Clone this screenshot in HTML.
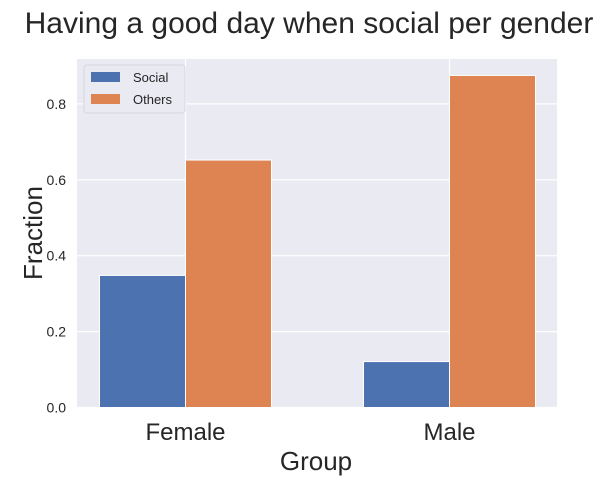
<!DOCTYPE html>
<html><head><meta charset="utf-8"><style>
body{margin:0;background:#fff;font-family:"Liberation Sans",sans-serif}
</style></head><body>
<svg id="chart" width="616" height="486" xmlns="http://www.w3.org/2000/svg" font-family="Liberation Sans, sans-serif">
<text x="309" y="33" font-size="30" text-anchor="middle" fill="#262626">Having a good day when social per gender</text>
<rect x="77" y="59" width="480" height="349" fill="#eaeaf2"/>
<g id="grid"></g>
<g id="bars"></g>
<g id="ticks"></g>
<text x="316" y="470" font-size="26" text-anchor="middle" fill="#262626">Group</text>
<text x="0" y="0" transform="translate(42,233) rotate(-90)" font-size="26" text-anchor="middle" fill="#262626">Fraction</text>
<g>
<rect x="84" y="65" width="101" height="48" rx="3" fill="#eaeaf2" stroke="#d5d5dc" stroke-width="1"/>
<rect x="91" y="72" width="29" height="10" fill="#4c72b0"/>
<text x="133" y="82" font-size="13" fill="#262626">Social</text>
<rect x="91" y="94" width="29" height="10" fill="#dd8452"/>
<text x="133" y="104" font-size="13" fill="#262626">Others</text>
</g>
</svg>
<script>
const categories=["Female","Male"];
const socialValues=[0.348,0.121];
const othersValues=[0.652,0.875];
const yTicks=[0,0.2,0.4,0.6,0.8];
const NS="http://www.w3.org/2000/svg";
const y0=407.5, yScale=379.5;
function yPos(v){return y0-v*yScale;}
function xCenter(i){return 185.5+264*i;}
const bw=86;
function mk(tag,attrs,parent){const e=document.createElementNS(NS,tag);for(const k in attrs)e.setAttribute(k,attrs[k]);document.getElementById(parent).appendChild(e);return e;}
yTicks.forEach(t=>{
  const l=mk('line',{x1:77,x2:557,y1:yPos(t),y2:yPos(t),stroke:'#fff','stroke-width':1.2},'grid');
  
  
  const tx=mk('text',{x:66,y:yPos(t)+5,'font-size':14,'text-anchor':'end',fill:'#262626'},'ticks');
  tx.textContent=t.toFixed(1);
  
  
});
categories.forEach((c,i)=>{
  const l=mk('line',{x1:xCenter(i),x2:xCenter(i),y1:59,y2:408,stroke:'#fff','stroke-width':1.2},'grid');
  
  
  const s=mk('rect',{x:xCenter(i)-bw,y:yPos(socialValues[i]),width:bw,height:y0-yPos(socialValues[i]),fill:'#4c72b0',stroke:'#fff','stroke-width':1},'bars');
  
  
  const o=mk('rect',{x:xCenter(i),y:yPos(othersValues[i]),width:bw,height:y0-yPos(othersValues[i]),fill:'#dd8452',stroke:'#fff','stroke-width':1},'bars');
  
  
  const tx=mk('text',{x:xCenter(i),y:440,'font-size':24,'text-anchor':'middle',fill:'#262626'},'ticks');
  tx.textContent=c;
  
  
});
</script>
</body></html>
